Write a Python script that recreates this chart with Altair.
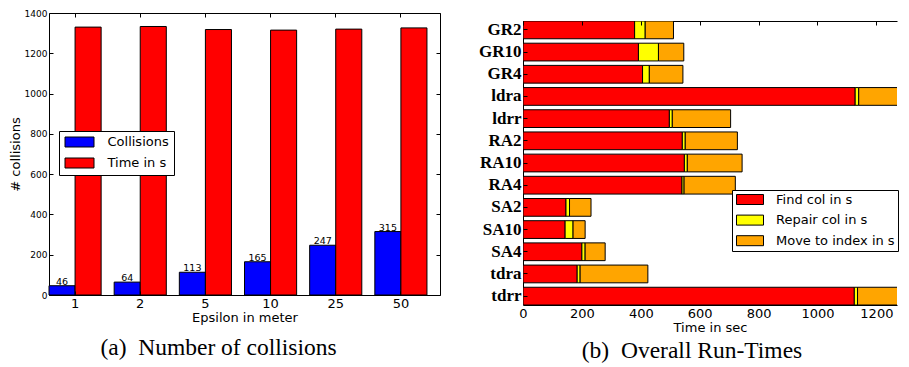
import altair as alt
import pandas as pd

# ---------------- data: left panel ----------------
epsilons = ["1", "2", "5", "10", "25", "50"]
collisions = [46, 64, 113, 165, 247, 315]
time_in_s = [1330, 1333, 1318, 1315, 1320, 1326]
left_series = ["Collisions", "Time in s"]
left_colors = ["#0000ff", "#ff0000"]
left_yticks = [0, 200, 400, 600, 800, 1000, 1200, 1400]

# ---------------- data: right panel ----------------
runs = ["GR2", "GR10", "GR4", "ldra", "ldrr", "RA2", "RA10", "RA4",
        "SA2", "SA10", "SA4", "tdra", "tdrr"]
find_col = [379, 392, 406, 1128, 497, 541, 548, 540, 146, 143, 200, 184, 1125]
repair_col = [36, 68, 23, 12, 10, 10, 10, 7, 12, 27, 11, 10, 11]
move_index = [96, 86, 114, 290, 198, 177, 186, 174, 73, 41, 68, 230, 290]
right_series = ["Find col in s", "Repair col in s", "Move to index in s"]
right_colors = ["#ff0000", "#ffff00", "#ffa500"]
right_xticks = [0, 200, 400, 600, 800, 1000, 1200]

left_df = pd.DataFrame({
    "eps": epsilons * 2,
    "series": [left_series[0]] * len(epsilons) + [left_series[1]] * len(epsilons),
    "value": collisions + time_in_s,
})
right_df = pd.DataFrame({
    "run": runs * 3,
    "series": sum([[s] * len(runs) for s in right_series], []),
    "order": sum([[i] * len(runs) for i in range(3)], []),
    "value": find_col + repair_col + move_index,
})

FONT = "DejaVu Sans"
SERIF = "Liberation Serif"
WL, HL = 391, 282
WR, HR = 374, 284
XMAX_R = 1270

# ---------------- left panel ----------------
yL_scale = alt.Scale(domain=[0, 1400], nice=False, zero=True)
xL = alt.X("eps:N", sort=epsilons,
           scale=alt.Scale(domain=epsilons, paddingInner=0.2, paddingOuter=0.1, align=0),
           axis=alt.Axis(title="Epsilon in meter", labelAngle=0, labelFontSize=13,
                         titleFontSize=13, ticks=False, tickSize=0, domain=False,
                         grid=True, gridColor="black", gridWidth=1, gridOpacity=1,
                         gridDash=[4, HL - 8, 4, 0], zindex=1,
                         labelPadding=2.5, titlePadding=1))
xoffL = alt.XOffset("series:N", sort=left_series,
                    scale=alt.Scale(domain=left_series, paddingInner=0, paddingOuter=0))

bars_L = alt.Chart(left_df).mark_bar(stroke="black", strokeWidth=1).encode(
    x=xL, xOffset=xoffL,
    y=alt.Y("value:Q", scale=yL_scale,
            axis=alt.Axis(values=left_yticks, format="d", title="# collisions",
                          labelFontSize=9, titleFontSize=13, ticks=False, tickSize=0,
                          domain=False, grid=True, gridColor="black", gridWidth=1,
                          gridOpacity=1, gridDash=[4, WL - 8, 4, 0], zindex=1,
                          labelPadding=2, titlePadding=2)),
    color=alt.Color("series:N", sort=left_series,
                    scale=alt.Scale(domain=left_series, range=left_colors),
                    legend=alt.Legend(title=None, orient="none", legendX=10, legendY=118,
                                      direction="vertical", labelFontSize=13,
                                      symbolType="M-1,-1H4.8V1H-1Z", symbolSize=100,
                                      symbolStrokeColor="black", symbolStrokeWidth=1,
                                      strokeColor="black", fillColor="white",
                                      padding=4.5, rowPadding=6, labelOffset=31,
                                      cornerRadius=0)),
)
text_L = alt.Chart(left_df).transform_filter(
    alt.datum.series == "Collisions"
).mark_text(baseline="alphabetic", dy=-1, fontSize=9.5, font=FONT, color="black").encode(
    x=xL, xOffset=xoffL,
    y=alt.Y("value:Q", scale=yL_scale),
    text="value:Q",
)

left = alt.layer(bars_L, text_L).properties(
    width=WL, height=HL,
    title=alt.TitleParams("(a)\u2002Number of collisions", orient="bottom", font=SERIF,
                          fontSize=23.5, fontWeight="normal", color="black",
                          anchor="middle", frame="group", offset=11.5, dx=-26),
)

# ---------------- right panel ----------------
xR_scale = alt.Scale(domain=[0, XMAX_R], nice=False, zero=True)
yR_scale = alt.Scale(domain=runs, paddingInner=0.2, paddingOuter=0)

right = alt.Chart(right_df).mark_bar(stroke="black", strokeWidth=1, clip=True).encode(
    x=alt.X("value:Q", stack="zero", scale=xR_scale,
            axis=alt.Axis(values=right_xticks, format="d", title="Time in sec",
                          labelFontSize=13, titleFontSize=13, ticks=False, tickSize=0,
                          domain=False, grid=True, gridColor="black", gridWidth=1,
                          gridOpacity=1, gridDash=[4, HR - 4], gridDashOffset=4,
                          zindex=1, labelPadding=2.5, titlePadding=1, labelFlush=False)),
    y=alt.Y("run:N", sort=runs, scale=yR_scale,
            axis=alt.Axis(title=None, labelFont=SERIF, labelFontWeight="bold",
                          labelFontSize=17, ticks=False, tickSize=0, domain=False,
                          grid=True, gridColor="black", gridWidth=1, gridOpacity=1,
                          gridDash=[4, 1000], zindex=1, labelPadding=2)),
    color=alt.Color("series:N", sort=right_series,
                    scale=alt.Scale(domain=right_series, range=right_colors),
                    legend=alt.Legend(title=None, orient="none", legendX=209, legendY=177,
                                      direction="vertical", labelFontSize=13,
                                      symbolType="M-1,-1H4.4V1H-1Z", symbolSize=100,
                                      symbolStrokeColor="black", symbolStrokeWidth=1,
                                      strokeColor="black", fillColor="white",
                                      padding=3, rowPadding=5.6, labelOffset=28,
                                      cornerRadius=0)),
    order=alt.Order("order:Q"),
).properties(
    width=WR, height=HR,
    # frame drawn as top + bottom + left edges only (right edge left open, as if cut off)
    view=alt.ViewBackground(stroke="black", strokeWidth=1,
                            strokeDash=[WR, HR, WR + HR]),
    title=alt.TitleParams("(b)\u2002Overall Run-Times", orient="bottom", font=SERIF,
                          fontSize=23.5, fontWeight="normal", color="black",
                          anchor="middle", frame="group", offset=4, dx=-18),
)

spacer = alt.Chart(pd.DataFrame({"v": [0]})).mark_point(opacity=0).properties(
    width=WR, height=5,
    view=alt.ViewBackground(fill="white", stroke="transparent"),
)
right_cell = alt.vconcat(spacer, right, spacing=0)

chart = alt.hconcat(left, right_cell, spacing=37).resolve_scale(
    color="independent"
).properties(
    padding={"left": 0, "top": 0, "right": 0, "bottom": 0},
    background="white",
).configure_view(
    stroke="black", strokeWidth=1
).configure_axis(
    labelFont=FONT, titleFont=FONT, labelColor="black", titleColor="black",
    titleFontWeight="normal",
).configure_legend(
    labelFont=FONT, labelColor="black", labelLimit=300,
)

chart.save("out.html", embed_options={"renderer": "svg", "actions": False})
